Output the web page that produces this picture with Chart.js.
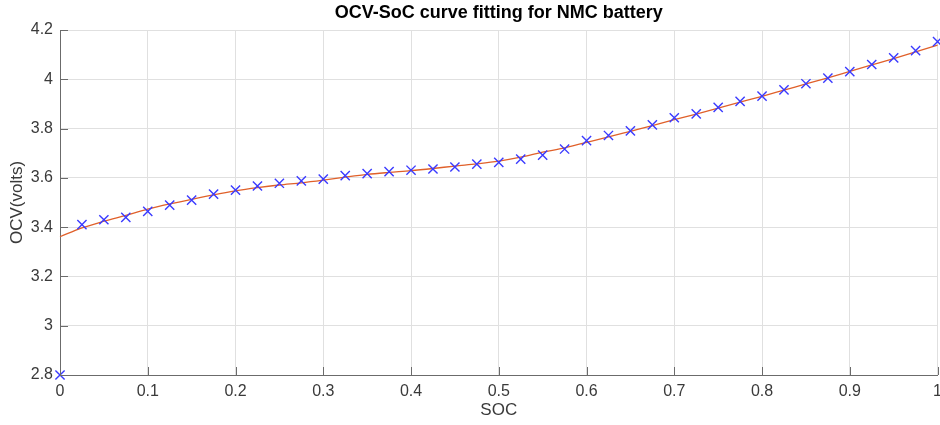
<!DOCTYPE html>
<html>
<head>
<meta charset="utf-8">
<script src="https://cdn.jsdelivr.net/npm/chart.js@4/dist/chart.umd.min.js"></script>
<style>
  html, body { margin: 0; padding: 0; background: #fff; overflow: hidden; }
  canvas { display: block; }
</style>
</head>
<body>
<canvas id="ocvChart" width="949" height="425"></canvas>
<script>
// state of charge sample points (0 .. 1, step 0.025)
var socPoints = [0, 0.025, 0.05, 0.075, 0.1, 0.125, 0.15, 0.175, 0.2, 0.225,
    0.25, 0.275, 0.3, 0.325, 0.35, 0.375, 0.4, 0.425, 0.45, 0.475,
    0.5, 0.525, 0.55, 0.575, 0.6, 0.625, 0.65, 0.675, 0.7, 0.725,
    0.75, 0.775, 0.8, 0.825, 0.85, 0.875, 0.9, 0.925, 0.95, 0.975, 1];

// measured OCV (blue x markers)
var ocvMeasured = [2.8, 3.41, 3.43, 3.44, 3.464, 3.489, 3.51, 3.534, 3.55, 3.567,
    3.578, 3.588, 3.595, 3.609, 3.617, 3.625, 3.631, 3.636, 3.644, 3.656,
    3.663, 3.676, 3.692, 3.717, 3.751, 3.772, 3.791, 3.815, 3.844, 3.86,
    3.886, 3.91, 3.932, 3.957, 3.982, 4.005, 4.031, 4.06, 4.087, 4.116, 4.153];

// fitted curve (orange line)
var ocvFit = [3.361, 3.397, 3.424, 3.448, 3.473, 3.494, 3.513, 3.531, 3.547, 3.56,
    3.571, 3.58, 3.591, 3.603, 3.614, 3.622, 3.629, 3.638, 3.648, 3.657,
    3.668, 3.684, 3.704, 3.722, 3.744, 3.766, 3.789, 3.812, 3.836, 3.859,
    3.883, 3.907, 3.931, 3.956, 3.981, 4.006, 4.032, 4.058, 4.084, 4.111, 4.139];

var xTicks = [0, 0.1, 0.2, 0.3, 0.4, 0.5, 0.6, 0.7, 0.8, 0.9, 1];
var yTicks = [2.8, 3, 3.2, 3.4, 3.6, 3.8, 4, 4.2];

function toPoints(xs, ys) {
    var pts = [];
    for (var i = 0; i < xs.length; i++) {
        pts.push({ x: xs[i], y: ys[i] });
    }
    return pts;
}

var fontFamily = "'Liberation Sans', Arial, Helvetica, sans-serif";
var axisColor = '#6b6b6b';
var gridColor = '#e0e0e0';
var textColor = '#3a3a3a';

// MATLAB style ticks pointing into the plot area
var innerTicks = {
    id: 'innerTicks',
    afterDraw: function(chart) {
        var ctx = chart.ctx;
        var area = chart.chartArea;
        var xs = chart.scales.x, ys = chart.scales.y;
        ctx.save();
        ctx.strokeStyle = axisColor;
        ctx.lineWidth = 1;
        ctx.beginPath();
        xTicks.forEach(function(v) {
            var px = Math.round(xs.getPixelForValue(v)) + 0.5;
            ctx.moveTo(px, area.bottom);
            ctx.lineTo(px, area.bottom - 8);
        });
        yTicks.forEach(function(v) {
            var py = Math.round(ys.getPixelForValue(v)) + 0.5;
            ctx.moveTo(area.left, py);
            ctx.lineTo(area.left + 8, py);
        });
        ctx.stroke();
        ctx.restore();
    }
};

var ctx = document.getElementById('ocvChart');
var chart = new Chart(ctx, {
    type: 'scatter',
    data: {
        datasets: [
            {
                label: 'measured',
                data: toPoints(socPoints, ocvMeasured),
                pointStyle: 'crossRot',
                pointRadius: 6.5,
                pointBorderWidth: 1.4,
                borderColor: '#3a3aff',
                backgroundColor: '#3a3aff',
                showLine: false,
                clip: false
            },
            {
                label: 'fit',
                data: toPoints(socPoints, ocvFit),
                showLine: true,
                borderColor: '#e0602a',
                borderWidth: 1.3,
                pointRadius: 0,
                cubicInterpolationMode: 'monotone',
                fill: false,
                clip: false
            }
        ]
    },
    options: {
        responsive: false,
        devicePixelRatio: 1,
        animation: false,
        layout: { padding: 0 },
        plugins: {
            legend: { display: false },
            tooltip: { enabled: false },
            title: {
                display: true,
                text: 'OCV-SoC curve fitting for NMC battery',
                fullSize: false,
                color: '#000',
                font: { family: fontFamily, size: 18, weight: 'bold' },
                padding: { top: 2, bottom: 6.4 }
            }
        },
        scales: {
            x: {
                type: 'linear',
                min: 0,
                max: 1,
                afterFit: function(s) { s.height = 50; },
                afterBuildTicks: function(s) {
                    s.ticks = xTicks.map(function(v) { return { value: v }; });
                },
                border: { display: true, color: axisColor, width: 1 },
                grid: { color: gridColor, drawTicks: false },
                ticks: {
                    color: textColor,
                    padding: 7,
                    maxRotation: 0,
                    font: { family: fontFamily, size: 16 },
                    callback: function(v) { return String(+v.toFixed(2)); }
                },
                title: {
                    display: true,
                    text: 'SOC',
                    color: textColor,
                    font: { family: fontFamily, size: 17 },
                    padding: { top: 0, bottom: 4 }
                }
            },
            y: {
                type: 'linear',
                min: 2.8,
                max: 4.2,
                afterFit: function(s) { s.width = 60; },
                afterBuildTicks: function(s) {
                    s.ticks = yTicks.map(function(v) { return { value: v }; });
                },
                border: { display: true, color: axisColor, width: 1 },
                grid: { color: gridColor, drawTicks: false },
                ticks: {
                    color: textColor,
                    padding: 7,
                    font: { family: fontFamily, size: 16 },
                    callback: function(v) { return String(+v.toFixed(2)); }
                },
                title: {
                    display: true,
                    text: 'OCV(volts)',
                    color: textColor,
                    font: { family: fontFamily, size: 17 },
                    padding: { top: 7, bottom: 0 }
                }
            }
        }
    },
    plugins: [innerTicks]
});
</script>
</body>
</html>
